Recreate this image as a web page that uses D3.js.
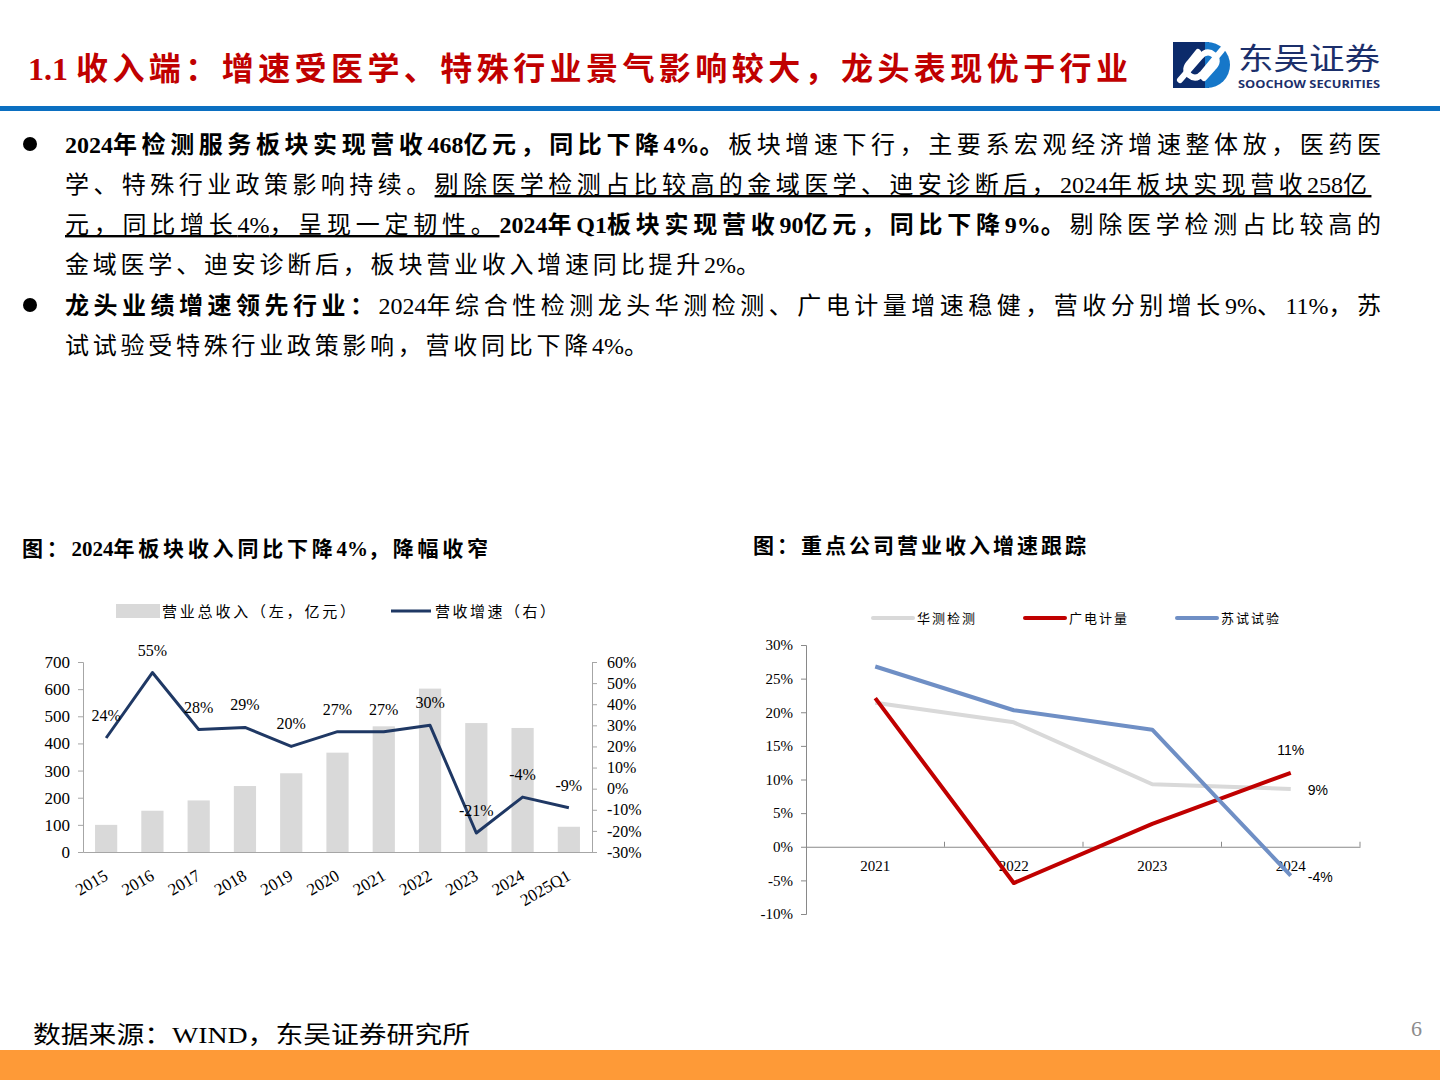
<!DOCTYPE html>
<html>
<head>
<meta charset="utf-8">
<script src="https://cdn.jsdelivr.net/npm/d3@7"></script>
<style>
  body { margin: 0; background: #fff; }
  svg { display: block; }
</style>
</head>
<body>
<svg id="page" width="1440" height="1080"></svg>
<script>
// left chart data
const years = ["2015", "2016", "2017", "2018", "2019", "2020", "2021", "2022", "2023", "2024", "2025Q1"]
const revenue = [100, 152, 190, 243, 290, 366, 463, 602, 475, 457, 93]
const growth = [24, 55, 28, 29, 20, 27, 27, 30, -21, -4, -9]
const leftTicks = [0, 100, 200, 300, 400, 500, 600, 700]
const rightTicks = [-30, -20, -10, 0, 10, 20, 30, 40, 50, 60]

// right chart data
const years2 = ["2021", "2022", "2023", "2024"]
const companies = ["华测检测", "广电计量", "苏试试验"]
const huace = [21.4, 18.5, 9.3, 8.6]
const guangdian = [22.1, -5.4, 3.4, 11.0]
const sushi = [26.8, 20.3, 17.4, -4.3]
const endLabels = ["9%", "11%", "-4%"]
const pctTicks = [-10, -5, 0, 5, 10, 15, 20, 25, 30]

const SERIF = "'Liberation Serif', 'Noto Sans CJK SC', serif"
const SANS = "'Liberation Sans', Arial, sans-serif"
const CJK = "'Noto Sans CJK SC', sans-serif"

const svg = d3.select("#page")

// writes a line of mixed text and spreads only the CJK glyphs so the line ends at x + target
function fitLine(parent, x, y, size, parts, target, attrs) {
    const t = parent.append("text")
        .attr("x", x).attr("y", y)
        .attr("font-family", SERIF).attr("font-size", size)
    Object.entries(attrs || {}).forEach(([k, v]) => t.attr(k, v))
    const re = /[\u3000-\u9fff\uff00-\uffef]+|[^\u3000-\u9fff\uff00-\uffef]+/g
    let n = 0
    parts.forEach(p => {
        p[1].match(re).forEach(run => {
            const isCjk = /[\u3000-\u9fff\uff00-\uffef]/.test(run)
            if (isCjk) n += run.length
            t.append("tspan")
                .classed("cjk", isCjk)
                .attr("font-weight", p[0] === "b" ? "bold" : null)
                .attr("text-decoration", p[0] === "u" ? "underline" : null)
                .text(run)
        })
    })
    if (target) {
        const w0 = t.node().getComputedTextLength()
        const ls = Math.max(0, (target - w0) / Math.max(1, n - 1))
        t.selectAll("tspan.cjk").style("letter-spacing", ls + "px")
    }
    return t
}

// ---------- header ----------
fitLine(svg, 28, 80, 32, [["b", "1.1 收入端：增速受医学、特殊行业景气影响较大，龙头表现优于行业"]], 1100,
    {fill: "#c00000", "font-weight": "bold"})

svg.append("rect").attr("x", 0).attr("y", 106).attr("width", 1440).attr("height", 5).attr("fill", "#0b6fc1")

// logo
const logo = svg.append("g")
logo.append("rect").attr("x", 1173).attr("y", 42).attr("width", 36).attr("height", 46).attr("fill", "#0c2b6b")
logo.append("path").attr("d", "M1205,42 H1207 A23,23 0 0 1 1207,88 H1205 Z").attr("fill", "#1677c9")
logo.append("path")
    .attr("d", "M1180,80 L1200,57 Q1207,49 1214,55 Q1220,61 1213,68 L1204,78")
    .attr("fill", "none").attr("stroke", "#fff").attr("stroke-width", 6).attr("stroke-linecap", "round")
logo.append("path")
    .attr("d", "M1222,50 L1203,73 Q1196,81 1189,75 Q1183,69 1190,62 L1198,52")
    .attr("fill", "none").attr("stroke", "#fff").attr("stroke-width", 6).attr("stroke-linecap", "round")
svg.append("text").attr("x", 1238).attr("y", 69)
    .attr("font-family", CJK).attr("font-size", 30).attr("fill", "#1b2f6b")
    .attr("textLength", 142).attr("lengthAdjust", "spacingAndGlyphs")
    .text("东吴证券")
svg.append("text").attr("x", 1238).attr("y", 88)
    .attr("font-family", "'Open Sans', " + SANS).attr("font-weight", "bold").attr("font-size", 10.5)
    .attr("fill", "#1b2f6b")
    .attr("textLength", 142).attr("lengthAdjust", "spacingAndGlyphs")
    .text("SOOCHOW SECURITIES")

// ---------- body text ----------
const lines = [
    {y: 153, len: 1316, parts: [["b", "2024年检测服务板块实现营收468亿元，同比下降4%。"], ["n", "板块增速下行，主要系宏观经济增速整体放，医药医"]]},
    {y: 193, len: 1302, parts: [["n", "学、特殊行业政策影响持续。"], ["u", "剔除医学检测占比较高的金域医学、迪安诊断后，2024年板块实现营收258亿"]]},
    {y: 233, len: 1316, parts: [["u", "元，同比增长4%，呈现一定韧性。"], ["b", "2024年Q1板块实现营收90亿元，同比下降9%。"], ["n", "剔除医学检测占比较高的"]]},
    {y: 273, len: 695, parts: [["n", "金域医学、迪安诊断后，板块营业收入增速同比提升2%。"]]},
    {y: 314, len: 1316, parts: [["b", "龙头业绩增速领先行业："], ["n", "2024年综合性检测龙头华测检测、广电计量增速稳健，营收分别增长9%、11%，苏"]]},
    {y: 354, len: 583, parts: [["n", "试试验受特殊行业政策影响，营收同比下降4%。"]]}
]
lines.forEach(l => fitLine(svg, 65, l.y, 24, l.parts, l.len, {fill: "#000"}))
svg.append("circle").attr("cx", 30).attr("cy", 144).attr("r", 7).attr("fill", "#000")
svg.append("circle").attr("cx", 30).attr("cy", 305).attr("r", 7).attr("fill", "#000")

// ---------- chart titles ----------
fitLine(svg, 22, 556, 21, [["b", "图：2024年板块收入同比下降4%，降幅收窄"]], 466, {"font-weight": "bold"})
fitLine(svg, 753, 553, 21, [["b", "图：重点公司营业收入增速跟踪"]], 333, {"font-weight": "bold"})

// ---------- left chart ----------
let x = d3.scaleBand().domain(years).range([83, 592]).paddingInner(0.52).paddingOuter(0.26)
let yL = d3.scaleLinear().domain([0, 700]).range([852, 662])
let yR = d3.scaleLinear().domain([-30, 60]).range([852, 662])
const axisGray = "#a6a6a6"

const left = svg.append("g")
left.append("g")
    .selectAll("rect")
    .data(revenue)
    .join("rect")
    .attr("fill", "#d9d9d9")
    .attr("x", (d, i) => x(years[i]))
    .attr("y", d => yL(d))
    .attr("width", x.bandwidth())
    .attr("height", d => yL(0) - yL(d))

let leftAxis = g => g
    .attr("transform", `translate(83,0)`)
    .call(d3.axisLeft(yL).tickValues(leftTicks).tickSize(5).tickPadding(8))
    .call(g => g.selectAll("line,path").attr("stroke", axisGray))
    .call(g => g.selectAll("text").attr("font-family", SERIF).attr("font-size", 17).attr("fill", "#000"))
let rightAxis = g => g
    .attr("transform", `translate(592,0)`)
    .call(d3.axisRight(yR).tickValues(rightTicks).tickFormat(d => d + "%").tickSize(5).tickPadding(10))
    .call(g => g.selectAll("line,path").attr("stroke", axisGray))
    .call(g => g.selectAll("text").attr("font-family", SERIF).attr("font-size", 16).attr("fill", "#000"))
let bottomAxis = g => g
    .attr("transform", `translate(0,852)`)
    .call(d3.axisBottom(x).tickSize(0).tickPadding(0).tickSizeOuter(0))
    .call(g => g.select(".domain").attr("stroke", axisGray))
    .call(g => g.selectAll(".tick text")
        .attr("font-family", SERIF).attr("font-size", 17).attr("fill", "#000")
        .attr("text-anchor", "end")
        .attr("dy", 0).attr("y", 0)
        .attr("transform", `translate(3,${27}) rotate(-30)`))
left.append("g").call(bottomAxis)
left.append("g").call(leftAxis)
left.append("g").call(rightAxis)

let line = d3.line()
    .x((d, i) => x(years[i]) + x.bandwidth() / 2)
    .y(d => yR(d))
left.append("path")
    .datum(growth)
    .attr("fill", "none")
    .attr("stroke", "#1f3864")
    .attr("stroke-width", 3)
    .attr("stroke-linejoin", "round")
    .attr("d", line)
left.append("g")
    .attr("font-family", SERIF)
    .attr("font-size", 16)
    .selectAll("text")
    .data(growth)
    .join("text")
    .attr("text-anchor", "middle")
    .attr("x", (d, i) => x(years[i]) + x.bandwidth() / 2)
    .attr("y", d => yR(d) - 17)
    .text(d => d + "%")

// left legend
left.append("rect").attr("x", 116).attr("y", 604).attr("width", 44).attr("height", 14).attr("fill", "#d9d9d9")
fitLine(left, 162, 617, 15, [["n", "营业总收入（左，亿元）"]], 193, {"font-family": CJK})
left.append("line").attr("x1", 391).attr("x2", 431).attr("y1", 611).attr("y2", 611)
    .attr("stroke", "#1f3864").attr("stroke-width", 3)
fitLine(left, 435, 617, 15, [["n", "营收增速（右）"]], 120, {"font-family": CJK})

// ---------- right chart ----------
let x2 = d3.scaleBand().domain(years2).range([806, 1360])
let y2 = d3.scaleLinear().domain([-10, 30]).range([914, 645])
const right = svg.append("g")

right.append("g")
    .attr("transform", `translate(806,0)`)
    .call(d3.axisLeft(y2).tickValues(pctTicks).tickFormat(d => d + "%").tickSize(5).tickPadding(8))
    .call(g => g.selectAll("line,path").attr("stroke", "#898989"))
    .call(g => g.selectAll("text").attr("font-family", SERIF).attr("font-size", 15).attr("fill", "#000"))

// category axis through 0%
right.append("g")
    .attr("transform", `translate(0,${y2(0)})`)
    .call(d3.axisBottom(x2).tickSize(0).tickPadding(14).tickSizeOuter(0))
    .call(g => g.select(".domain").attr("stroke", "#898989"))
    .call(g => g.selectAll(".tick text").attr("font-family", SERIF).attr("font-size", 15).attr("fill", "#000"))
right.append("g")
    .selectAll("line")
    .data(years2.slice(1).map(d => x2(d)).concat([x2.range()[1]]))
    .join("line")
    .attr("x1", d => d).attr("x2", d => d)
    .attr("y1", y2(0)).attr("y2", y2(0) - 5)
    .attr("stroke", "#898989")

const series = [huace, guangdian, sushi]
const colors = ["#d9d9d9", "#c00000", "#6f8fc5"]
let line2 = d3.line()
    .x((d, i) => x2(years2[i]) + x2.bandwidth() / 2)
    .y(d => y2(d))
right.append("g")
    .selectAll("path")
    .data(series)
    .join("path")
    .attr("fill", "none")
    .attr("stroke", (d, i) => colors[i])
    .attr("stroke-width", 4)
    .attr("stroke-linejoin", "round")
    .attr("d", line2)

// end-of-line labels
const lastX = x2("2024") + x2.bandwidth() / 2
right.append("text").attr("font-family", SANS).attr("font-size", 14)
    .attr("x", lastX + 17).attr("y", y2(huace[3]) + 6).text(endLabels[0])
right.append("text").attr("font-family", SANS).attr("font-size", 14).attr("text-anchor", "middle")
    .attr("x", lastX).attr("y", y2(guangdian[3]) - 18).text(endLabels[1])
right.append("text").attr("font-family", SANS).attr("font-size", 14)
    .attr("x", lastX + 17).attr("y", y2(sushi[3]) + 6).text(endLabels[2])

// right legend
const legX = [873, 1025, 1177]
companies.forEach((c, i) => {
    right.append("line").attr("x1", legX[i]).attr("x2", legX[i] + 40).attr("y1", 618).attr("y2", 618)
        .attr("stroke", colors[i]).attr("stroke-width", 4).attr("stroke-linecap", "round")
    fitLine(right, legX[i] + 44, 623, 13, [["n", c]], 58, {"font-family": CJK})
})

// ---------- footer ----------
svg.append("text").attr("x", 33).attr("y", 1043)
    .attr("font-family", SERIF).attr("font-size", 24)
    .attr("textLength", 437).attr("lengthAdjust", "spacingAndGlyphs")
    .text("数据来源：WIND，东吴证券研究所")
svg.append("text").attr("x", 1422).attr("y", 1036).attr("text-anchor", "end")
    .attr("font-family", SERIF).attr("font-size", 22).attr("fill", "#8c8c8c").text("6")
svg.append("rect").attr("x", 0).attr("y", 1050).attr("width", 1440).attr("height", 30).attr("fill", "#fe9a37")
</script>
</body>
</html>
